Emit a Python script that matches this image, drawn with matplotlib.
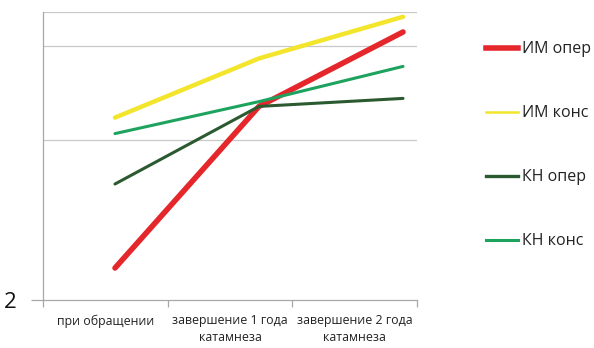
import matplotlib.pyplot as plt
from matplotlib.lines import Line2D
import matplotlib.transforms as mtransforms

# categories (x) and series values
categories = ["при обращении", "завершение 1 года\nкатамнеза", "завершение 2 года\nкатамнеза"]
im_oper = [2.20, 3.21, 3.675]
im_kons = [3.14, 3.51, 3.77]
kn_oper = [2.725, 3.21, 3.26]
kn_kons = [3.04, 3.24, 3.46]

series = [
    ("ИМ опер", im_oper, "#e5262b", 4.0, 4.0),
    ("ИМ конс", im_kons, "#f3e52b", 3.2, 1.8),
    ("КН опер", kn_oper, "#2c5a30", 2.2, 2.4),
    ("КН конс", kn_kons, "#1ea35e", 2.2, 2.2),
]

plt.rcParams['font.family'] = ['Open Sans', 'DejaVu Sans']

fig = plt.figure(figsize=(5.94, 3.48), dpi=100)
ax = fig.add_axes([43 / 594, 48 / 348, 374 / 594, 288 / 348])

x = list(range(len(categories)))
for name, vals, col, lw, _ in series:
    ax.plot(x, vals, color=col, lw=lw, solid_capstyle='round', label=name, zorder=3)

ax.set_xlim(-0.5, 2.097)
ax.set_ylim(2.0, 3.8)

# gridlines
for gy in (3.0, 3.5875, 3.8):
    ax.axhline(gy, color='#c8c8c8', lw=0.9, zorder=1)

for s in ('top', 'right'):
    ax.spines[s].set_visible(False)
for s in ('left', 'bottom'):
    ax.spines[s].set_color('#a8a8a8')
    ax.spines[s].set_linewidth(0.9)

ax.set_yticks([2.0])
ax.set_yticklabels(["2"], fontsize=16, color='#111111')
ax.tick_params(axis='y', length=9, width=0.9, color='#a8a8a8', pad=10)

# category boundaries as tick marks, labels centered in each slot
lo, hi = ax.get_xlim()
bounds = [lo + (hi - lo) * k / 3 for k in range(4)]
ax.set_xticks(bounds)
ax.set_xticklabels([])
ax.tick_params(axis='x', length=5, width=0.9, color='#a8a8a8')
trans = mtransforms.blended_transform_factory(ax.transAxes, ax.transAxes)
for i, lab in enumerate(categories):
    ax.text((i + 0.5) / 3, -0.05, lab, transform=trans, ha='center', va='top',
            fontsize=8.9, color='#222222', linespacing=1.35)

handles = [Line2D([0], [0], color=c, lw=llw) for _, _, c, _, llw in series]
leg = fig.legend(handles, [s[0] for s in series], loc='upper left',
                 bbox_to_anchor=(472 / 594, 1 - 27 / 348), frameon=False,
                 fontsize=11.5, handlelength=1.95, handletextpad=0.3,
                 labelspacing=3.0)
for t in leg.get_texts():
    t.set_color('#222222')

fig.savefig("out.png", dpi=100)
